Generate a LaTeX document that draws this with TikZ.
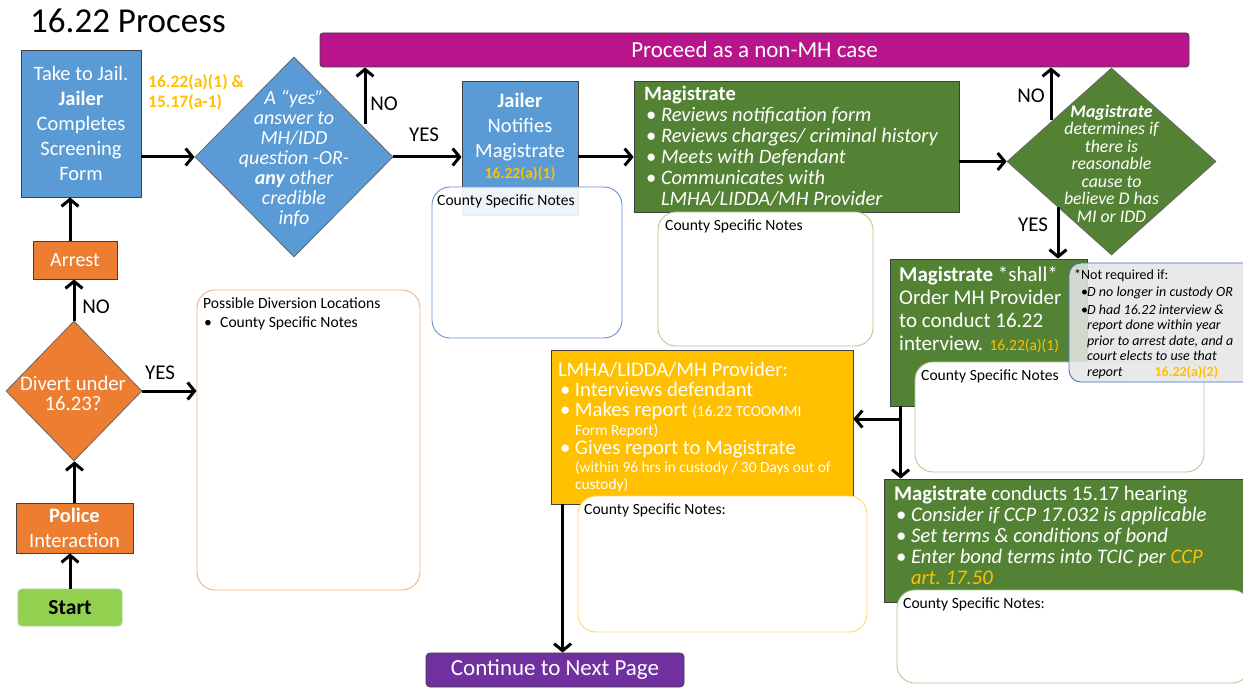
\documentclass[tikz,border=0pt]{standalone}
\usepackage{fontspec}
\setmainfont{Carlito}
\usetikzlibrary{shapes.geometric,arrows.meta}

\definecolor{blueF}{HTML}{5B9BD5}
\definecolor{orangeF}{HTML}{ED7D31}
\definecolor{greenF}{HTML}{548235}
\definecolor{yellowF}{HTML}{FFC000}
\definecolor{magF}{HTML}{B8158C}
\definecolor{purpF}{HTML}{7030A0}
\definecolor{startF}{HTML}{92D050}
\definecolor{startB}{HTML}{A9D18E}
\definecolor{refC}{HTML}{FFC000}
\definecolor{noteB}{HTML}{6A8FD6}
\definecolor{noteG}{HTML}{A9D18E}
\definecolor{noteY}{HTML}{FFD966}
\definecolor{noteO}{HTML}{F4B183}
\definecolor{greyF}{HTML}{E6E6E6}
\definecolor{greyB}{HTML}{4472C4}

\newcommand{\pbul}{\makebox[17pt][l]{\hspace{2pt}\textbullet}}
\newcommand{\gbul}{\makebox[6pt][l]{\textbullet}}
\newcommand{\smtxt}{\fontsize{15.4}{16}\selectfont}

\tikzset{
  box/.style={draw=black!75, line width=0.8pt, inner sep=0pt, text=white, align=center},
  lbox/.style={box, align=flush left},
  dbox/.style={diamond, draw=black!60, line width=0.8pt, inner sep=0pt},
  notebox/.style={draw=#1, line width=0.9pt, fill=white, rounded corners=18pt, inner sep=0pt},
  wtxt/.style={text=white, inner sep=0pt, align=center},
  notetxt/.style={anchor=base west, inner sep=0pt, font=\fontsize{15.6}{16}\selectfont},
  reftxt/.style={text=refC, inner sep=0pt, align=left, font=\bfseries\fontsize{17.5}{20}\selectfont},
  lbl/.style={inner sep=0pt, font=\fontsize{21}{21}\selectfont},
  arr/.style={line width=3pt, -{Straight Barb[length=7pt,width=17pt]}}
}

\begin{document}
\begin{tikzpicture}[x=1pt,y=-1pt]
  \path[use as bounding box, fill=white] (0,0) rectangle (1243,698);

  \node[anchor=base west, inner sep=0pt, font=\fontsize{35}{35}\selectfont] (title) at (30,33) {16.22 Process};

  % jail and first question
  \node[box, fill=blueF, minimum width=120, minimum height=147, font=\fontsize{20.5}{25}\selectfont] (jail) at (81,123.5) {Take to Jail.\\\textbf{Jailer}\\Completes\\Screening\\Form};
  \node[reftxt, anchor=west] (jailref) at (148,92) {16.22(a)(1) \&\\15.17(a-1)};
  \node[dbox, fill=blueF, minimum width=198, minimum height=200] (q1) at (294,157) {};
  \node[wtxt, font=\itshape\fontsize{20}{20}\selectfont] (q1txt) at (294,158) {A “yes”\\answer to\\MH/IDD\\question -OR-\\\textbf{any} other\\credible\\info};
  \node[box, fill=magF, rounded corners=3pt, minimum width=869, minimum height=34, font=\fontsize{23}{23}\selectfont] (nonmh) at (754.5,50) {Proceed as a non-MH case};

  \draw[arr] (jail.east |- q1.west) -- (q1.west);
  \coordinate (q1no) at (365,124);
  \draw[arr] (q1no) -- (q1no |- nonmh.south);
  \node[lbl] (no1) at (384,104) {NO};

  % jailer notifies
  \node[box, fill=blueF, minimum width=116, minimum height=134] (ntf) at (520,148) {};
  \node[wtxt, anchor=north, font=\fontsize{20.5}{25}\selectfont] (ntftxt) at (520,93) {\textbf{Jailer}\\Notifies\\Magistrate\\[-4pt]{\bfseries\fontsize{15.6}{16}\selectfont\color{refC}16.22(a)(1)}};
  \node[notebox=noteB, fill opacity=0.9, minimum width=190, minimum height=151] (n1) at (527,262.5) {};
  \node[notetxt] (n1txt) at (437,206) {County Specific Notes};
  \draw[arr] (q1.east) -- (q1.east -| ntf.west);
  \node[lbl] (yes1) at (424,135) {YES};

  % magistrate review
  \node[lbox, fill=greenF, minimum width=325, minimum height=131, text width=305, font=\fontsize{20.5}{21}\selectfont] (mag) at (796.5,146.5) {\textbf{Magistrate}\\\pbul\textit{Reviews notification form}\\\pbul\textit{Reviews charges/ criminal history}\\\pbul\textit{Meets with Defendant}\\\pbul\textit{Communicates with}\\\hspace*{17pt}\textit{LMHA/LIDDA/MH Provider}};
  \node[notebox=noteG, minimum width=215, minimum height=134] (n2) at (765.5,279) {};
  \node[notetxt] (n2txt) at (665,230) {County Specific Notes};
  \draw[arr] (ntf.east |- q1.east) -- (mag.west |- q1.east);

  \node[dbox, fill=greenF, minimum width=209, minimum height=187] (d2) at (1111.5,161.5) {};
  \node[wtxt, font=\itshape\fontsize{17.8}{17.5}\selectfont] (d2txt) at (1111.5,163.5) {\textbf{Magistrate}\\determines if\\there is\\reasonable\\cause to\\believe D has\\MI or IDD};
  \draw[arr] (mag.east |- d2.west) -- (d2.west);
  \coordinate (d2no) at (1051,120);
  \draw[arr] (d2no) -- (d2no |- nonmh.south);
  \node[lbl] (no2) at (1031,96) {NO};

  % order interview
  \node[box, fill=greenF, minimum width=197, minimum height=147] (shall) at (988.5,332.5) {};
  \node[wtxt, anchor=north west, align=flush left, font=\fontsize{21}{23}\selectfont] (shalltxt) at (899,266) {\textbf{Magistrate} *shall*\\Order MH Provider\\to conduct 16.22\\interview. {\fontsize{15.5}{16}\selectfont\color{refC}16.22(a)(1)}};
  \coordinate (d2yes) at (1058,207);
  \draw[arr] (d2yes) -- (d2yes |- shall.north);
  \node[lbl] (yes2) at (1033,225) {YES};
  \node[notebox=noteG, minimum width=289, minimum height=110] (n3) at (1059.5,417) {};
  \node[notetxt] (n3txt) at (921,380) {County Specific Notes};
  \node[notebox=greyB, fill=greyF, fill opacity=0.88, rounded corners=12pt, minimum width=190, minimum height=119] (notreq) at (1164,322.5) {};
  \node[anchor=north west, inner sep=0pt, align=flush left, font=\fontsize{14}{15.5}\selectfont] (notreqtxt) at (1074,269) {*Not required if:\\[2pt]\hspace*{7pt}\gbul\textit{D no longer in custody OR}\\[2pt]\hspace*{7pt}\gbul\textit{D had 16.22 interview \&}\\\hspace*{13pt}\textit{report done within year}\\\hspace*{13pt}\textit{prior to arrest date, and a}\\\hspace*{13pt}\textit{court elects to use that}\\\hspace*{13pt}\textit{report}\hspace{32pt}{\bfseries\color{refC}16.22(a)(2)}};

  % provider
  \node[lbox, fill=yellowF, minimum width=302, minimum height=154, text width=288, font=\fontsize{20.7}{20.5}\selectfont] (prov) at (702,427) {LMHA/LIDDA/MH Provider:\\[-0.5pt]\pbul Interviews defendant\\\pbul Makes report {\smtxt(16.22 TCOOMMI}\\[-1.5pt]\hspace*{17pt}{\smtxt Form Report)}\\[-2pt]\pbul Gives report to Magistrate\\[-2.5pt]\hspace*{17pt}{\smtxt(within 96 hrs in custody / 30 Days out of}\\[-3.5pt]\hspace*{17pt}{\smtxt custody)}};
  \node[notebox=noteY, minimum width=289, minimum height=136] (n4) at (722.5,564) {};
  \node[notetxt] (n4txt) at (584,514) {County Specific Notes:};

  % hearing
  \node[lbox, fill=greenF, minimum width=366, minimum height=123, text width=346, font=\fontsize{20.7}{21}\selectfont] (hear) at (1067,540.5) {\textbf{Magistrate} conducts 15.17 hearing\\\pbul\textit{Consider if CCP 17.032 is applicable}\\\pbul\textit{Set terms \& conditions of bond}\\\pbul\textit{Enter bond terms into TCIC per \textcolor{refC}{CCP}}\\\hspace*{17pt}\textit{\textcolor{refC}{art.\ 17.50}}\rule[-11pt]{0pt}{1pt}};
  \node[notebox=noteG, minimum width=353, minimum height=93] (n5) at (1073.5,636.5) {};
  \node[notetxt] (n5txt) at (903,608) {County Specific Notes:};

  \coordinate (split) at (901,419);
  \draw[arr] ([xshift=11pt]shall.south west) -- ([xshift=11pt]shall.south west |- hear.north);
  \draw[arr] (split) -- (split -| prov.east);

  \node[box, fill=purpF, rounded corners=4pt, minimum width=258, minimum height=34, font=\fontsize{23}{23}\selectfont] (cont) at (555,670) {Continue to Next Page};
  \draw[arr] ([xshift=12pt]prov.south west) -- ([xshift=12pt]prov.south west |- cont.north);

  % left column
  \node[box, fill=orangeF, minimum width=84, minimum height=38, font=\fontsize{20}{20}\selectfont] (arrest) at (75,260) {Arrest};
  \draw[arr] ([xshift=-5pt]arrest.north) -- ([xshift=-5pt]arrest.north |- jail.south);
  \node[dbox, fill=orangeF, minimum width=136, minimum height=140] (div) at (74,391) {};
  \node[wtxt, font=\fontsize{20.7}{20}\selectfont] (divtxt) at (73,393) {Divert under\\16.23?};
  \draw[arr] (div.north) -- (div.north |- arrest.south);
  \node[lbl] (no3) at (96,307) {NO};
  \node[notebox=noteO, minimum width=223, minimum height=300] (divloc) at (308.5,440) {};
  \node[notetxt] (divloctxt) at (203,308) {Possible Diversion Locations};
  \node[notetxt] (divlocitem) at (204,327) {\makebox[16pt][l]{\textbullet}County Specific Notes};
  \draw[arr] (div.east) -- (div.east -| divloc.west);
  \node[lbl] (yes3) at (160,373) {YES};
  \node[box, fill=orangeF, minimum width=117, minimum height=50, font=\fontsize{20.5}{25}\selectfont] (police) at (74.5,528) {\textbf{Police}\\Interaction};
  \draw[arr] (police.north) -- (police.north |- div.south);
  \node[box, fill=startF, draw=startB, rounded corners=4pt, text=black, minimum width=104, minimum height=37, font=\bfseries\fontsize{21.5}{21.5}\selectfont] (start) at (70,607.5) {Start};
  \draw[arr] (start.north) -- (start.north |- police.south);
\end{tikzpicture}
\end{document}
